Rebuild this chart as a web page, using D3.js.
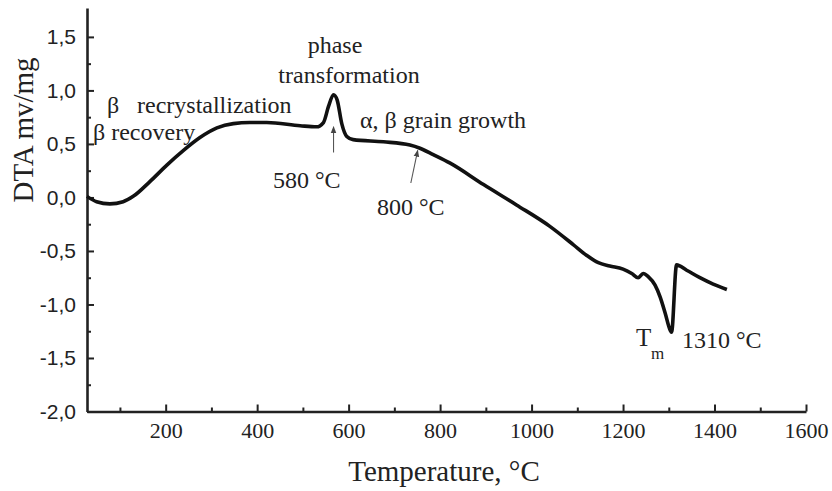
<!DOCTYPE html>
<html>
<head>
<meta charset="utf-8">
<script src="https://cdn.jsdelivr.net/npm/d3@7"></script>
<style>
  html, body { margin: 0; padding: 0; background: #fff; }
  svg { display: block; }
  .axis path, .axis line { stroke: #222; }
  .note { font-family: "Liberation Serif", "Times New Roman", serif; fill: #222; }
</style>
</head>
<body>
<div id="chart"></div>
<script>
// DTA curve (temperature in °C, DTA in mV/mg)
var temps = [28, 49, 78, 107, 129, 166, 202, 239, 275, 312, 348, 384, 421, 494, 530, 545,
  556, 567, 575, 585, 596, 610, 676, 734, 756, 785, 822, 895, 967, 1040, 1091, 1120,
  1146, 1171, 1200, 1219, 1233, 1244, 1255, 1270, 1281, 1292, 1303, 1306, 1317, 1339,
  1368, 1397, 1427];
var dta = [0.01, -0.04, -0.06, -0.04, 0.01, 0.15, 0.30, 0.44, 0.56, 0.65, 0.69, 0.70, 0.70, 0.67, 0.66, 0.70,
  0.85, 0.96, 0.91, 0.69, 0.57, 0.54, 0.52, 0.49, 0.46, 0.40, 0.32, 0.12, -0.07, -0.27, -0.44, -0.54,
  -0.61, -0.64, -0.67, -0.71, -0.75, -0.71, -0.74, -0.82, -0.93, -1.08, -1.24, -1.26, -0.63, -0.68,
  -0.75, -0.81, -0.86];

var xMajorTicks = [200, 400, 600, 800, 1000, 1200, 1400, 1600];
var xMinorTicks = [100, 300, 500, 700, 900, 1100, 1300, 1500];
var yMajorTicks = [-2.0, -1.5, -1.0, -0.5, 0.0, 0.5, 1.0, 1.5];
var yMinorTicks = [-1.75, -1.25, -0.75, -0.25, 0.25, 0.75, 1.25];

// arrows: [T from, DTA from, T to, DTA to]
var arrow580 = [567, 0.42, 567, 0.66];
var arrow800 = [736, 0.135, 751, 0.44];

(function () {
  "use strict";

  var W = 832, H = 491;
  var X0 = 87, X1 = 806, Y0 = 411.5, Y1 = 8;
  var SERIF = "'Liberation Serif', 'Times New Roman', serif";
  var SANS = "'Liberation Sans', Arial, sans-serif";

  var x = d3.scaleLinear().domain([28, 1600]).range([X0, X1]);
  var y = d3.scaleLinear().domain([-2, 1.77]).range([Y0, Y1]);

  function fmtY(v) { return v.toFixed(1).replace(".", ","); }

  var svg = d3.select("#chart").append("svg")
    .attr("width", W).attr("height", H)
    .attr("viewBox", [0, 0, W, H]);

  svg.append("rect").attr("width", W).attr("height", H).attr("fill", "#fff");

  var defs = svg.append("defs");
  defs.append("marker")
    .attr("id", "head")
    .attr("viewBox", "0 0 10 10")
    .attr("refX", 9).attr("refY", 5)
    .attr("markerWidth", 7).attr("markerHeight", 9)
    .attr("markerUnits", "userSpaceOnUse")
    .attr("orient", "auto")
    .append("path").attr("d", "M0,1 L10,5 L0,9 Z").attr("fill", "#444");

  // x axis, ticks pointing inside
  var gx = svg.append("g").attr("class", "axis")
    .attr("transform", "translate(0," + Y0 + ")")
    .call(d3.axisBottom(x).tickValues(xMajorTicks).tickSize(-7).tickSizeOuter(0).tickPadding(11)
      .tickFormat(d3.format("d")));
  gx.attr("font-family", null).attr("font-size", null);
  gx.select(".domain").attr("stroke-width", 2.6);
  gx.selectAll(".tick line").attr("stroke-width", 2);
  gx.selectAll("text").style("font-family", SERIF).style("font-size", "22px").attr("fill", "#222");
  svg.append("g").attr("class", "axis")
    .attr("transform", "translate(0," + Y0 + ")")
    .call(d3.axisBottom(x).tickValues(xMinorTicks).tickSize(-4).tickSizeOuter(0).tickFormat(""))
    .call(function (g) { g.select(".domain").remove(); g.selectAll("line").attr("stroke-width", 2); });

  // y axis
  var gy = svg.append("g").attr("class", "axis")
    .attr("transform", "translate(" + X0 + ",0)")
    .call(d3.axisLeft(y).tickValues(yMajorTicks).tickSize(-7).tickSizeOuter(0).tickPadding(11)
      .tickFormat(fmtY));
  gy.attr("font-family", null).attr("font-size", null);
  gy.select(".domain").attr("stroke-width", 2.6);
  gy.selectAll(".tick line").attr("stroke-width", 2);
  gy.selectAll("text").style("font-family", SANS).style("font-size", "21px").attr("fill", "#222");
  svg.append("g").attr("class", "axis")
    .attr("transform", "translate(" + X0 + ",0)")
    .call(d3.axisLeft(y).tickValues(yMinorTicks).tickSize(-4).tickSizeOuter(0).tickFormat(""))
    .call(function (g) { g.select(".domain").remove(); g.selectAll("line").attr("stroke-width", 2); });

  // axis titles
  svg.append("text").attr("class", "note")
    .attr("transform", "translate(33,130) rotate(-90)")
    .attr("text-anchor", "middle").attr("font-size", 29)
    .text("DTA mv/mg");
  svg.append("text").attr("class", "note")
    .attr("x", 444).attr("y", 481)
    .attr("text-anchor", "middle").attr("font-size", 29)
    .text("Temperature, °C");

  // curve
  var pts = temps.map(function (t, i) { return [t, dta[i]]; });
  var line = d3.line()
    .x(function (d) { return x(d[0]); })
    .y(function (d) { return y(d[1]); })
    .curve(d3.curveMonotoneX);
  svg.append("path").datum(pts)
    .attr("d", line)
    .attr("fill", "none")
    .attr("stroke", "#111")
    .attr("stroke-width", 3.6)
    .attr("stroke-linejoin", "round");

  // arrows
  [arrow580, arrow800].forEach(function (a) {
    svg.append("line")
      .attr("x1", x(a[0])).attr("y1", y(a[1]))
      .attr("x2", x(a[2])).attr("y2", y(a[3]))
      .attr("stroke", "#555").attr("stroke-width", 1.1)
      .attr("marker-end", "url(#head)");
  });

  // annotations
  function note(txt, px, py, size, anchor) {
    svg.append("text").attr("class", "note")
      .attr("x", px).attr("y", py)
      .attr("font-size", size)
      .attr("text-anchor", anchor || "start")
      .text(txt);
  }
  note("phase", 335, 53, 24, "middle");
  note("transformation", 349, 83, 24, "middle");
  note("β", 107, 113, 24);
  note("recrystallization", 137, 113, 24);
  note("β recovery", 93, 140, 24);
  note("α, β grain growth", 360, 128, 24);
  note("580 °C", 273, 188, 24);
  note("800 °C", 377, 215, 24);
  note("T", 636, 346, 25);
  note("m", 651, 359, 17);
  note("1310 °C", 682, 348, 24);
})();
</script>
</body>
</html>
